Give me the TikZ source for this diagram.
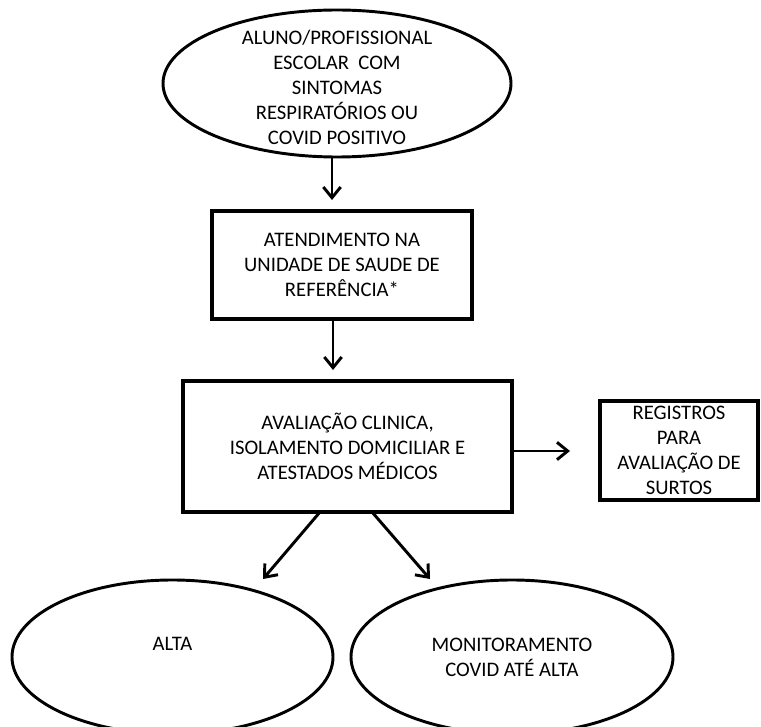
\documentclass[tikz,border=0pt]{standalone}
\usepackage{fontspec}
\setmainfont{Carlito}
\usetikzlibrary{shapes.geometric,arrows.meta}
\begin{document}
\begin{tikzpicture}[x=0.75pt,y=-0.75pt,
  every node/.style={font=\fontsize{15.5}{18.75}\selectfont, align=center, inner sep=0pt, outer sep=0pt},
  oval/.style={draw, ellipse, line width=2.2pt},
  box/.style={draw, rectangle, line width=2.4pt},
  arr/.style={line width=2.2pt, -{Straight Barb[length=8pt,width=13pt]}}
]
\useasboundingbox (0,0) rectangle (761,727);
\clip (0,0) rectangle (761,727);
\fill[white] (0,0) rectangle (761,727);

\node[oval, minimum width=261pt, minimum height=110.25pt] (src) at (337,83.5) {};
\node (srct) at (337,87.5) {ALUNO/PROFISSIONAL\\ESCOLAR~~COM\\SINTOMAS\\RESPIRATÓRIOS OU\\COVID POSITIVO};

\node[box, minimum width=195pt, minimum height=81pt] (b1) at (342,265) {ATENDIMENTO NA\\UNIDADE DE SAUDE DE\\REFERÊNCIA*};

\node[box, minimum width=246.75pt, minimum height=98.25pt] (b2) at (347.5,446.5) {AVALIAÇÃO CLINICA,\\ISOLAMENTO DOMICILIAR E\\ATESTADOS MÉDICOS};

\node[box, minimum width=118.5pt, minimum height=74.25pt] (reg) at (679,450.5) {REGISTROS\\PARA\\AVALIAÇÃO DE\\SURTOS};

\node[oval, minimum width=240.75pt, minimum height=115.5pt] (alta) at (172.5,657) {};
\node (altat) at (172.5,644) {ALTA};

\node[oval, minimum width=241.5pt, minimum height=115.5pt] (mon) at (512,657) {MONITORAMENTO\\COVID ATÉ ALTA};

\draw[arr] ([xshift=-3.75pt]src.south) -- ([xshift=-7.5pt,yshift=8.25pt]b1.north);
\draw[arr] ([xshift=-6.75pt]b1.south) -- ([xshift=-10.875pt,yshift=8.25pt]b2.north);
\draw[arr] ([yshift=-3.375pt]b2.east) -- ([xshift=-22.5pt,yshift=-0.375pt]reg.west);
\draw[arr] ([xshift=-20.625pt]b2.south) -- ([xshift=67.875pt,yshift=0.75pt]alta.north);
\draw[arr] ([xshift=18.375pt]b2.south) -- ([xshift=-61.5pt,yshift=0.75pt]mon.north);
\end{tikzpicture}
\end{document}
